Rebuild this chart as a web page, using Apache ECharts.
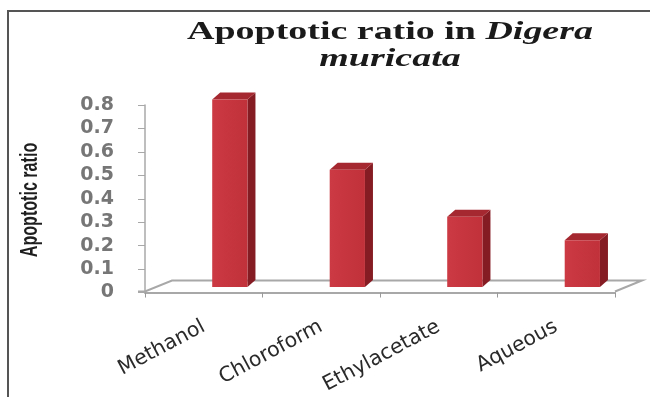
<!DOCTYPE html>
<html>
<head>
<meta charset="utf-8">
<script src="https://cdn.jsdelivr.net/npm/echarts@6/dist/echarts.min.js"></script>
<style>
  html, body { margin: 0; padding: 0; background: #fff; }
  #chart { width: 650px; height: 397px; }
</style>
</head>
<body>
<div id="chart"></div>
<script>
// Extracts and their apoptotic ratio
const categories = ['Methanol', 'Chloroform', 'Ethylacetate', 'Aqueous'];
const ratios = [0.8, 0.5, 0.3, 0.2];
const yTickLabels = ['0', '0.1', '0.2', '0.3', '0.4', '0.5', '0.6', '0.7', '0.8'];
const yAxisTitle = 'Apoptotic ratio';

const chart = echarts.init(document.getElementById('chart'), null, { renderer: 'canvas' });

// 3-D look: depth of the floor and of each column
const FLOOR_DX = 27, FLOOR_DY = -12;
const BAR_DX = 8, BAR_DY = -7;

function renderFloor(params) {
  const cs = params.coordSys;
  const x0 = cs.x, x1 = cs.x + cs.width, y0 = cs.y + cs.height;
  return {
    type: 'polyline',
    silent: true,
    shape: {
      points: [
        [x0 - 7, y0 - 1],
        [x0, y0 - 1],
        [x0 + FLOOR_DX, y0 + FLOOR_DY],
        [x1 + FLOOR_DX, y0 + FLOOR_DY],
        [x1, y0 - 1]
      ]
    },
    style: { stroke: '#a8a8a8', lineWidth: 2, fill: null }
  };
}

function renderBar(params, api) {
  const cat = api.value(0);
  const v = api.value(1);
  const base = api.coord([cat, 0]);
  const top = api.coord([cat, v]);
  const band = api.size([1, 0])[0];
  const w = band * 0.3;
  const x = base[0] + band * 0.222 - w / 2;
  const y = top[1] - 5.5;
  const h = base[1] - top[1];
  return {
    type: 'group',
    children: [
      {
        type: 'polygon',
        shape: { points: [[x + w, y], [x + w + BAR_DX, y + BAR_DY], [x + w + BAR_DX, y + h + BAR_DY], [x + w, y + h]] },
        style: { fill: '#861c23' }
      },
      {
        type: 'polygon',
        shape: { points: [[x, y], [x + BAR_DX, y + BAR_DY], [x + w + BAR_DX, y + BAR_DY], [x + w, y]] },
        style: { fill: '#a5272f' }
      },
      {
        type: 'rect',
        shape: { x: x, y: y, width: w, height: h },
        style: {
          fill: new echarts.graphic.LinearGradient(0, 0, 1, 0, [
            { offset: 0, color: '#cc3a43' },
            { offset: 1, color: '#c0313a' }
          ])
        }
      }
    ]
  };
}

const option = {
  backgroundColor: '#ffffff',
  animation: false,
  grid: { left: 145, right: 35, top: 105, bottom: 104, containLabel: false },
  graphic: [
    { type: 'line', shape: { x1: 8, y1: 11, x2: 8, y2: 397 }, style: { stroke: '#555', lineWidth: 2 } },
    { type: 'line', shape: { x1: 7, y1: 11, x2: 650, y2: 11 }, style: { stroke: '#555', lineWidth: 2 } },
    {
      type: 'text', x: 390, y: 32, scaleX: 1.46,
      style: {
        text: '{a|Apoptotic ratio in }{b|Digera}',
        align: 'center', verticalAlign: 'middle',
        rich: {
          a: { font: 'bold 26px "Liberation Serif", serif', fill: '#1a1a1a' },
          b: { font: 'italic bold 26px "Liberation Serif", serif', fill: '#1a1a1a' }
        }
      }
    },
    {
      type: 'text', x: 390, y: 59, scaleX: 1.46,
      style: {
        text: 'muricata',
        font: 'italic bold 26px "Liberation Serif", serif',
        fill: '#1a1a1a', align: 'center', verticalAlign: 'middle'
      }
    },
    {
      // value-axis title, set upright along the axis
      type: 'text', x: 31, y: 200, rotation: Math.PI / 2, scaleX: 0.7,
      style: {
        text: yAxisTitle,
        font: 'bold 23px "Liberation Sans", sans-serif',
        fill: '#1e1e1e', align: 'center', verticalAlign: 'middle'
      }
    }
  ],
  xAxis: {
    type: 'category',
    data: categories,
    boundaryGap: true,
    axisLine: { show: true, lineStyle: { color: '#a8a8a8', width: 2 } },
    axisTick: { show: true, length: 5, lineStyle: { color: '#999', width: 1 } },
    axisLabel: {
      rotate: 28,
      margin: 33,
      interval: 0,
      fontFamily: '"DejaVu Sans", sans-serif',
      fontSize: 20.5,
      color: '#2a2a2a'
    }
  },
  yAxis: {
    type: 'value',
    min: 0, max: 0.8, interval: 0.1,
    axisLine: { show: true, lineStyle: { color: '#a8a8a8', width: 1.5 } },
    axisTick: { show: true, length: 7, lineStyle: { color: '#a8a8a8' } },
    splitLine: { show: false },
    axisLabel: {
      margin: 31,
      fontFamily: '"DejaVu Sans", sans-serif',
      fontWeight: 'bold',
      fontSize: 19,
      color: '#767676',
      formatter: (val, idx) => yTickLabels[idx]
    }
  },
  series: [
    {
      type: 'custom',
      renderItem: renderFloor,
      data: [[0, 0]],
      silent: true,
      z: 1
    },
    {
      type: 'custom',
      renderItem: renderBar,
      data: categories.map((c, i) => [i, ratios[i]]),
      encode: { x: 0, y: 1 },
      z: 2
    }
  ]
};

chart.setOption(option);
</script>
</body>
</html>
